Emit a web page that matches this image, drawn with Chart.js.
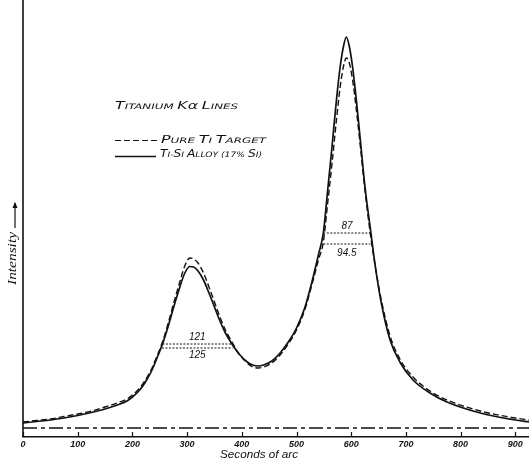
<!DOCTYPE html>
<html>
<head>
<meta charset="utf-8">
<script src="https://cdn.jsdelivr.net/npm/chart.js@4.4.1/dist/chart.umd.min.js"></script>
<style>
html,body{margin:0;padding:0;background:#fff;}
#wrap{width:529px;height:459px;position:relative;}
</style>
</head>
<body>
<div id="wrap"><canvas id="c" width="529" height="459"></canvas></div>
<script>
// ---- data ----
const seconds = [0,25,50,75,100,125,150,175,190,200,210,219,227,235,245,255,265,275,285,295,305,312,320,330,340,350,360,370,382,395,410,420,430,440,455,470,485,500,515,530,540,549,557,565,573,580,586,591,596,602,609,617,625,636,645,655,671,690,713,744,775,836,900,925];
const alloyIntensity = [5,6.5,8,10,12.5,15.5,19,23.5,27,31,36,42,49,57,70,84,101,120,138,154,161.5,161,157,148,135,121,107,95,84,74,66,63,62,63,67,75,86,100,120,150,173,195,238,282,328,362,382,391,383,363,330,286,242,195,158,125,88,65,48,35,26,15,8,6];
const pureIntensity  = [6,7.5,9,11.5,14,17,21,25.5,29,33,38,44,51,59,72,86,104,124,143,161,170,169,165,155,141,126,111,98,86,74,65,61,60,61,65,73,84,98,118,147,168,186,225,265,308,342,362,370,366,350,320,280,238,190,158,128,92,68,51,37,28,17,10,8];
const baselineX = [0,925];
const baselineY = [0,0];
// half-width markers
const widthLabels = ['121','125','87','94.5'];
const widthLevels = [84,80,195,184];
const widthStart  = [255,254,549,549];
const widthEnd    = [382,383,636,635];
const xTicks = [0,100,200,300,400,500,600,700,800,900];

const ink = '#111';
const pts = (xs, ys) => xs.map((x,i)=>({x, y: ys[i]}));

const datasets = [
  {label:'Ti-Si Alloy (17% Si)', data: pts(seconds, alloyIntensity), borderColor: ink, borderWidth: 1.7, pointRadius: 0, cubicInterpolationMode:'monotone', fill:false},
  {label:'Pure Ti Target', data: pts(seconds, pureIntensity), borderColor: ink, borderWidth: 1.4, borderDash:[6,3], pointRadius: 0, cubicInterpolationMode:'monotone', fill:false},
  {label:'baseline', data: pts(baselineX, baselineY), borderColor: ink, borderWidth: 1.3, borderDash:[14,4,4,4], pointRadius: 0, fill:false}
];
widthLabels.forEach((lab,i)=>{
  datasets.push({label:'w'+lab, data:[{x:widthStart[i],y:widthLevels[i]},{x:widthEnd[i],y:widthLevels[i]}], borderColor: ink, borderWidth: 1, borderDash:[2,1.5], pointRadius:0, fill:false});
});

// draws text in italic small capitals (groups of same size drawn together)
function drawCaps(ctx, text, x, y, big, small, targetW, family) {
  const groups = [];
  for (const ch of text) {
    let c = ch, sz;
    if (ch >= 'A' && ch <= 'Z') sz = big;
    else if (ch >= 'a' && ch <= 'z') { c = ch.toUpperCase(); sz = small; }
    else if (ch === 'α') sz = big;
    else sz = small;
    const last = groups[groups.length - 1];
    if (last && last.sz === sz) last.t += c; else groups.push({t: c, sz});
  }
  ctx.save();
  ctx.textAlign = 'left';
  ctx.textBaseline = 'alphabetic';
  let w = 0;
  groups.forEach(g => { ctx.font = `italic ${g.sz}px ${family}`; w += ctx.measureText(g.t).width; });
  const s = targetW ? targetW / w : 1;
  ctx.translate(x, y); ctx.scale(s, 1);
  let cx = 0;
  groups.forEach(g => { ctx.font = `italic ${g.sz}px ${family}`; ctx.fillText(g.t, cx, 0); cx += ctx.measureText(g.t).width; });
  ctx.restore();
}
function fitText(ctx, text, x, y, font, targetW) {
  ctx.save();
  ctx.textAlign = 'left';
  ctx.textBaseline = 'alphabetic';
  ctx.font = font;
  const w = ctx.measureText(text).width;
  ctx.translate(x, y); ctx.scale(targetW / w, 1);
  ctx.fillText(text, 0, 0);
  ctx.restore();
}

const overlay = {
  id: 'overlay',
  afterDatasetsDraw(chart) {
    const {ctx, chartArea: ca, scales: {x, y}} = chart;
    ctx.save();
    ctx.strokeStyle = ink; ctx.fillStyle = ink;
    // left axis line
    ctx.lineWidth = 1.6;
    ctx.beginPath(); ctx.moveTo(ca.left, 0); ctx.lineTo(ca.left, ca.bottom); ctx.stroke();
    // tick marks pointing up
    ctx.lineWidth = 1.2;
    x.ticks.forEach(t => {
      const px = Math.round(x.getPixelForValue(t.value)) + 0.5;
      ctx.beginPath(); ctx.moveTo(px, ca.bottom); ctx.lineTo(px, ca.bottom - 5); ctx.stroke();
    });
    // half-width labels
    const offs = [-6.5, 7.5, -7, 9];
    ctx.save();
    ctx.textBaseline = 'middle';
    ctx.textAlign = 'center';
    ctx.font = 'italic 10px "Liberation Sans"';
    widthLabels.forEach((lab, i) => {
      const cx = x.getPixelForValue((widthStart[i] + widthEnd[i]) / 2);
      const cy = y.getPixelForValue(widthLevels[i]) + offs[i];
      ctx.fillText(lab, cx, cy);
    });
    ctx.restore();
    // legend block
    const fam = '"DejaVu Sans"';
    drawCaps(ctx, 'Titanium Kα Lines', 115, 109, 10, 7.5, 123, fam);
    ctx.lineWidth = 1.2;
    ctx.setLineDash([6,3]);
    ctx.beginPath(); ctx.moveTo(115, 140.5); ctx.lineTo(158, 140.5); ctx.stroke();
    ctx.setLineDash([]);
    drawCaps(ctx, 'Pure Ti Target', 161, 143, 10, 7.5, 105, fam);
    ctx.lineWidth = 1.4;
    ctx.beginPath(); ctx.moveTo(115, 156.5); ctx.lineTo(156, 156.5); ctx.stroke();
    drawCaps(ctx, 'Ti-Si Alloy (17% Si)', 160, 157, 10, 7.5, 102, fam);
    // x axis title
    fitText(ctx, 'Seconds of arc', 220, 458, 'italic 10px "Liberation Sans"', 78);
    // y axis title (rotated)
    ctx.save();
    ctx.textAlign = 'left';
    ctx.textBaseline = 'alphabetic';
    ctx.translate(16, 285);
    ctx.rotate(-Math.PI / 2);
    ctx.font = 'italic 12px "Liberation Serif"';
    const iw = ctx.measureText('Intensity').width;
    ctx.save(); ctx.scale(53 / iw, 1); ctx.fillText('Intensity', 0, 0); ctx.restore();
    ctx.lineWidth = 1.2;
    ctx.beginPath(); ctx.moveTo(57, -1); ctx.lineTo(82, -1); ctx.stroke();
    ctx.beginPath(); ctx.moveTo(83, -1); ctx.lineTo(77, -3.5); ctx.lineTo(77, 1.5); ctx.closePath(); ctx.fill();
    ctx.restore();
    ctx.restore();
  }
};

new Chart(document.getElementById('c'), {
  type: 'line',
  data: { datasets },
  options: {
    responsive: false,
    animation: false,
    devicePixelRatio: 1,
    layout: { padding: { left: 23, top: 0, right: 0, bottom: 0 } },
    plugins: { legend: { display: false }, tooltip: { enabled: false } },
    scales: {
      x: {
        type: 'linear', min: 0, max: 925, position: 'bottom',
        afterBuildTicks(scale) { scale.ticks = xTicks.map(v => ({value: v})); },
        afterFit(scale) { scale.height = 22; },
        grid: { display: false, drawTicks: false },
        border: { display: true, color: ink, width: 1.6 },
        ticks: { autoSkip: false, maxRotation: 0, padding: 2, color: ink, font: { family: 'Liberation Sans', size: 9, style: 'italic', weight: 'bold' } }
      },
      y: { type: 'linear', display: false, min: -9, max: 428 }
    }
  },
  plugins: [overlay]
});
</script>
</body>
</html>
